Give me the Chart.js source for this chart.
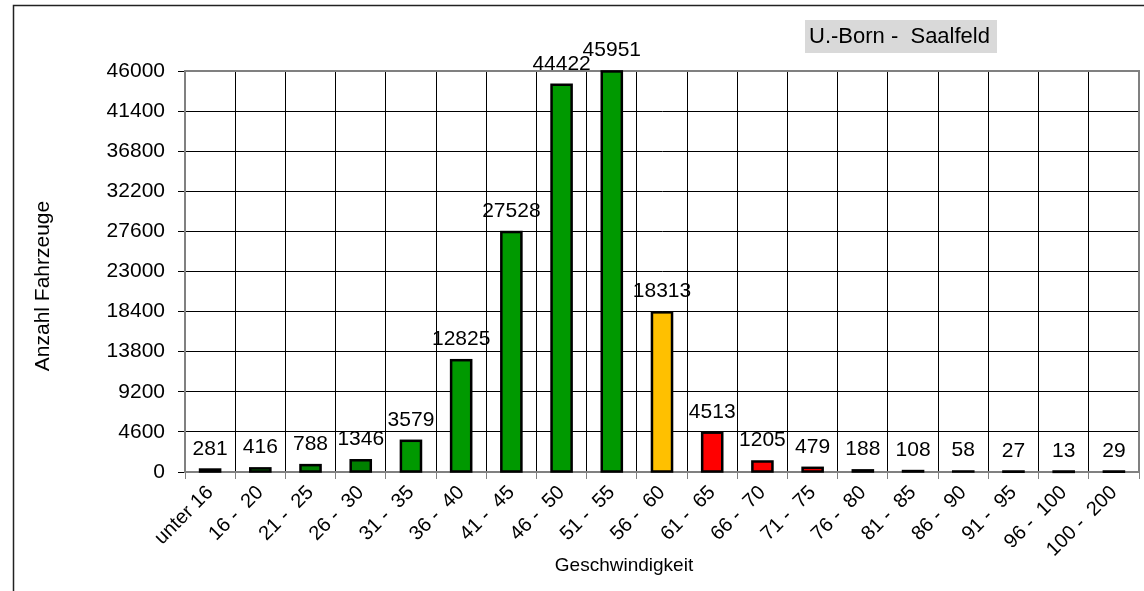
<!DOCTYPE html>
<html><head><meta charset="utf-8">
<script src="https://cdn.jsdelivr.net/npm/chart.js@4/dist/chart.umd.min.js"></script>
<style>html,body{margin:0;padding:0;background:#fff;overflow:hidden}#wrap{width:1144px;height:591px;position:relative}</style>
</head><body><div id="wrap"><canvas id="c" width="1144" height="591"></canvas></div>
<script>
const categories = ["unter 16","16 -  20","21 -  25","26 -  30","31 -  35","36 -  40","41 -  45","46 -  50","51 -  55","56 -  60","61 -  65","66 -  70","71 -  75","76 -  80","81 -  85","86 -  90","91 -  95","96 -  100","100 -  200"];
const counts = [281,416,788,1346,3579,12825,27528,44422,45951,18313,4513,1205,479,188,108,58,27,13,29];
const barColors = ["#008000","#008000","#008000","#008000","#009900","#009900","#009900","#009900","#009900","#FFC000","#FF0000","#FF0000","#FF0000","#FF0000","#FF0000","#FF0000","#FF0000","#FF0000","#FF0000"];
const yMin = 0, yMax = 46000, yStep = 4600;
const boxLabel = "U.-Born -  Saalfeld";
const xTitle = "Geschwindigkeit";
const yTitle = "Anzahl Fahrzeuge";
const FONT = "'Liberation Sans', Arial, sans-serif";

const deco = {
  id: 'deco',
  beforeDraw(chart) {
    const ctx = chart.ctx;
    ctx.save();
    ctx.fillStyle = '#fff';
    ctx.fillRect(0, 0, chart.width, chart.height);
    ctx.strokeStyle = '#222';
    ctx.lineWidth = 1.5;
    ctx.beginPath();
    ctx.moveTo(13.5, 591); ctx.lineTo(13.5, 5.5); ctx.lineTo(1144, 5.5);
    ctx.stroke();
    ctx.fillStyle = '#D9D9D9';
    ctx.fillRect(805, 20, 192, 33);
    ctx.fillStyle = '#000';
    ctx.font = '22px ' + FONT;
    ctx.textAlign = 'left';
    ctx.textBaseline = 'middle';
    ctx.fillText(boxLabel, 809, 37);
    ctx.restore();
  },
  beforeDatasetsDraw(chart) {
    const ctx = chart.ctx, a = chart.chartArea;
    ctx.save();
    ctx.strokeStyle = '#808080';
    ctx.lineWidth = 2;
    ctx.strokeRect(a.left, a.top, a.right - a.left, a.bottom - a.top);
    ctx.restore();
  },
  afterDatasetsDraw(chart) {
    const ctx = chart.ctx;
    const meta = chart.getDatasetMeta(0);
    ctx.save();
    // bar outlines centred on the bar edges
    ctx.strokeStyle = '#000';
    ctx.lineWidth = 2.5;
    meta.data.forEach((bar) => {
      const l = bar.x - bar.width / 2;
      ctx.strokeRect(l, bar.y, bar.width, bar.base - bar.y);
    });
    ctx.fillStyle = '#000';
    ctx.font = '21px ' + FONT;
    ctx.textAlign = 'center';
    ctx.textBaseline = 'alphabetic';
    meta.data.forEach((bar, i) => {
      ctx.fillText(String(counts[i]), bar.x, bar.y - 15);
    });
    ctx.textBaseline = 'middle';
    ctx.font = '19px ' + FONT;
    ctx.fillText(xTitle, 624, 566);
    ctx.font = '21px ' + FONT;
    ctx.translate(43, 286);
    ctx.rotate(-Math.PI / 2);
    ctx.fillText(yTitle, 0, 0);
    ctx.restore();
  }
};

new Chart(document.getElementById('c'), {
  type: 'bar',
  data: {
    labels: categories,
    datasets: [{
      data: counts,
      backgroundColor: barColors,
      borderWidth: 0,
      barPercentage: 0.4,
      categoryPercentage: 1
    }]
  },
  options: {
    responsive: false,
    animation: false,
    devicePixelRatio: 1,
    layout: { padding: { top: 71, right: 5, left: 0, bottom: 0 } },
    plugins: { legend: { display: false }, tooltip: { enabled: false } },
    scales: {
      x: {
        afterFit(s) { s.height = 119; },
        grid: { color: '#000', lineWidth: 1, tickColor: '#808080', tickLength: 7, offset: true },
        border: { color: '#808080', width: 2 },
        ticks: { color: '#000', font: { family: FONT, size: 20 }, minRotation: 45, maxRotation: 45, autoSkip: false, padding: 2 }
      },
      y: {
        min: yMin, max: yMax,
        afterFit(s) { s.width = 185; },
        grid: { color: '#000', lineWidth: 1, tickColor: '#000', tickLength: 7 },
        border: { color: '#808080', width: 2 },
        ticks: { stepSize: yStep, color: '#000', font: { family: FONT, size: 21 }, padding: 13, callback: v => String(v) }
      }
    }
  },
  plugins: [deco]
});
</script>
</body></html>
